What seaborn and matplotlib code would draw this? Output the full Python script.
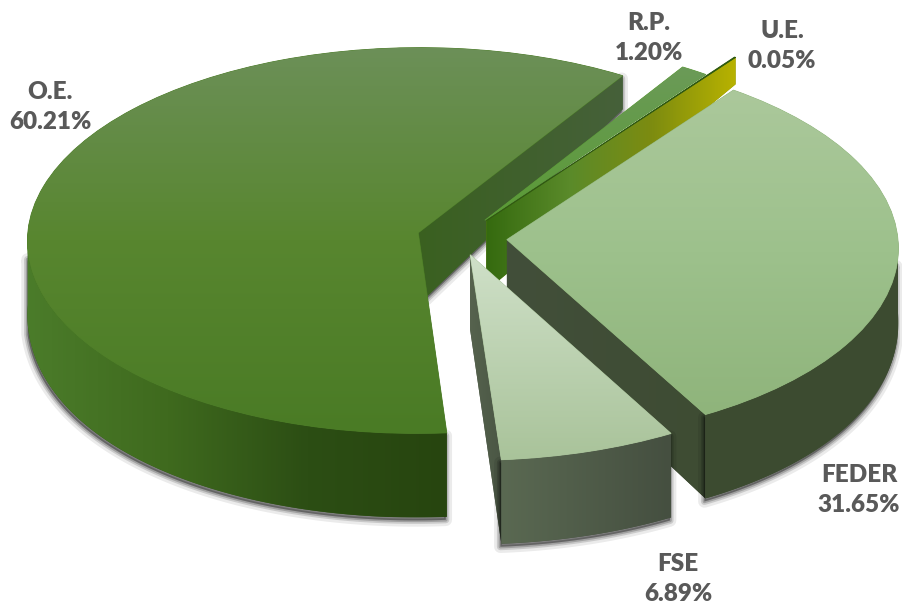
import numpy as np
import matplotlib
matplotlib.use("Agg")
import matplotlib.pyplot as plt
from matplotlib.patches import Polygon
from matplotlib.transforms import Transform
import seaborn as sns

# -----------------------------
# DATA
# -----------------------------
labels = ["O.E.", "FSE", "FEDER", "U.E.", "R.P."]
values = [60.21, 6.89, 31.65, 0.05, 1.20]
explode = [0.11, 0.09, 0.12, 0.112, 0.112]
radii = [1.0, 1.015, 1.0, 1.105, 0.98]

top_colors = {
    "O.E.": ["#6c9058", "#58862f", "#4a7b25"],
    "FSE": ["#cfe0c8", "#a9c39a"],
    "FEDER": ["#abc89b", "#9dc18c", "#8fb47b"],
    "U.E.": ["#2f5a10", "#2f5a10"],
    "R.P.": ["#6b9a58", "#5a9a35"],
}
outer_colors = {
    "O.E.": ["#4b7c2a", "#3f6a1e", "#2c4e14", "#27450f"],
    "FSE": ["#5a6952", "#454f40"],
    "FEDER": ["#3d4c30", "#3c4b30"],
}
cut_colors = {
    "O.E.": ["#3a6020", "#46603a"],
    "FSE": ["#56634e", "#4a5644"],
    "FEDER": ["#424f3a", "#3e4c33"],
    "U.E.": ["#356a0f", "#5a8a2a", "#7d8c10", "#b8b200"],
}
label_pos = {
    "O.E.": (50, 107),
    "R.P.": (649, 38),
    "U.E.": (782, 46),
    "FEDER": (859, 490),
    "FSE": (678, 579),
}
draw_order = ["O.E.", "R.P.", "U.E.", "FEDER", "FSE"]

# page position of the pie and camera tilt
CX, CY, RX, RY, TILT = 460, 238, 391, 193, 0.04


class Perspective(Transform):
    input_dims = 2
    output_dims = 2

    def transform_non_affine(self, xy):
        xy = np.asarray(xy, dtype=float)
        s = 1 / (1 + TILT * xy[:, 1])
        return np.column_stack((CX + RX * xy[:, 0] * s, CY - RY * xy[:, 1] * s))


def depth(py):
    t = np.clip((435 - py) / 358, 0, None)
    return 84 - 50 * t ** 2.5


def rim(w, theta):
    t = np.radians(theta)
    pts = np.column_stack((w.center[0] + w.r * np.cos(t), w.center[1] + w.r * np.sin(t)))
    return persp.transform(pts)


def extrude(pts):
    low = pts.copy()
    low[:, 1] += depth(pts[:, 1])
    return np.vstack((pts, low[::-1]))


def paint(path_px, clip, colors, horizontal, z):
    cmap = sns.blend_palette(colors, as_cmap=True)
    ramp = np.linspace(0, 1, 256)
    grad = ramp[None, :] if horizontal else ramp[:, None]
    box = path_px.get_extents()
    im = ax.imshow(grad, cmap=cmap, vmin=0, vmax=1, aspect="auto", zorder=z,
                   extent=(box.x0, box.x1, box.y1, box.y0), interpolation="nearest")
    im.set_clip_path(clip)


def shadow(pts, z):
    for lw, a in [(9, 0.08), (5, 0.14), (2.5, 0.20)]:
        ax.add_patch(Polygon(extrude(pts) + [-1, 3], closed=True, fc="#000000", ec="#000000",
                             lw=lw, alpha=a, zorder=z - 0.1, joinstyle="round"))


def wall(pts, colors, z):
    poly = Polygon(extrude(pts), closed=True, fc=colors[len(colors) // 2], ec="none", zorder=z)
    ax.add_patch(poly)
    paint(poly.get_path(), poly, colors, True, z + 0.01)


# -----------------------------
# PIE
# -----------------------------
sns.set_theme(style="white")
plt.rcParams["font.family"] = ["Lato", "DejaVu Sans"]

fig = plt.figure(figsize=(9.03, 6.05), dpi=100)
ax = fig.add_axes([0, 0, 1, 1])
wedges, _ = ax.pie(values, explode=explode, startangle=57.5, counterclock=True)
persp = Perspective()

z = 2
for name in draw_order:
    i = labels.index(name)
    w = wedges[i]
    w.set_radius(radii[i])
    w.set_transform(persp + ax.transData)
    w.set_edgecolor(top_colors[name][-1])
    w.set_linewidth(0.6)
    w.set_facecolor(top_colors[name][-1])
    w.set_zorder(z + 0.5)

    # straight cut below the first edge
    if name in cut_colors:
        line = np.vstack((persp.transform([w.center]), rim(w, np.array([w.theta1]))))
        if name == "O.E.":
            shadow(line, z)
        wall(line, cut_colors[name], z)
    # round side, front half only
    if name in outer_colors:
        start = max(w.theta1, 180)
        stop = min(w.theta2, 360)
        shadow(rim(w, np.linspace(max(start, 187), min(stop, 353), 90)), z + 0.2)
        wall(rim(w, np.linspace(start, stop, 90)), outer_colors[name], z + 0.2)

    paint(persp.transform_path(w.get_path()), w, top_colors[name], False, z + 0.6)
    z += 1

for i, name in enumerate(labels):
    x, y = label_pos[name]
    ax.text(x, y, f"{name}\n{values[i]:.2f}%", ha="center", va="center", fontsize=17.5,
            fontweight="heavy", color="#595959", linespacing=1.42, zorder=20)

ax.set_aspect("auto")
ax.set_xlim(0, 903)
ax.set_ylim(605, 0)
ax.axis("off")

fig.savefig("out.png", dpi=100, facecolor="white")
